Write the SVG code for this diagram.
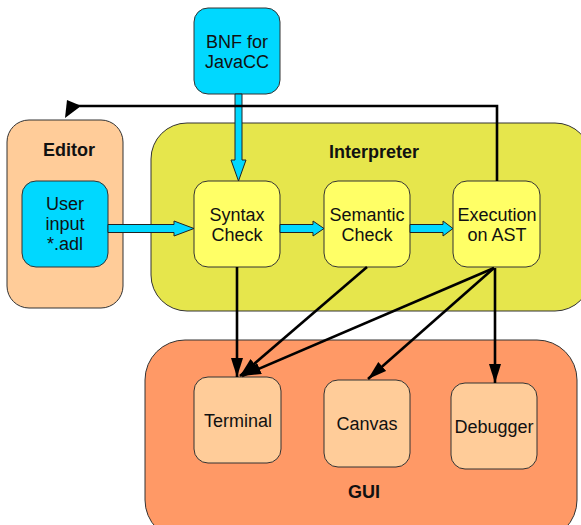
<svg xmlns="http://www.w3.org/2000/svg" width="581" height="525" viewBox="0 0 581 525">
  <style>
    .box { stroke: #333; stroke-width: 1; }
    .editor { fill: #ffcc99; }
    .interp { fill: #e6e64c; }
    .gui { fill: #ff9966; }
    .cyan { fill: #00d8ff; }
    .yellow { fill: #ffff66; }
    .peach { fill: #ffcc99; }
    .lbl { font-family: "Liberation Sans", Arial, sans-serif; font-size: 18px; fill: #111; text-anchor: middle; }
    .title { font-family: "Liberation Sans", Arial, sans-serif; font-size: 18px; font-weight: bold; fill: #111; text-anchor: middle; }
    .wire { fill: none; stroke: #000; stroke-width: 2.6; }
    .flow { fill: #00d8ff; stroke: #222; stroke-width: 1; }
  </style>
  <defs>
    <marker id="head" markerUnits="userSpaceOnUse" markerWidth="20" markerHeight="14" refX="19" refY="6" orient="auto">
      <path d="M0,0 L19,6 L0,12 z" fill="#000"/>
    </marker>
  </defs>

  <!-- containers -->
  <g id="editor">
    <rect class="box editor" x="7" y="120" width="116" height="188" rx="22"/>
    <text class="title" x="69" y="156">Editor</text>
  </g>
  <g id="interpreter">
    <rect class="box interp" x="151" y="123" width="440" height="188" rx="36"/>
    <text class="title" x="374" y="158">Interpreter</text>
  </g>
  <g id="gui">
    <rect class="box gui" x="145" y="340" width="432" height="200" rx="40"/>
    <text class="title" x="364" y="498">GUI</text>
  </g>

  <!-- nodes -->
  <g id="bnf">
    <rect class="box cyan" x="194" y="8" width="86" height="86" rx="14"/>
    <text class="lbl" x="237" y="48">BNF for</text>
    <text class="lbl" x="237" y="68">JavaCC</text>
  </g>
  <g id="user-input">
    <rect class="box cyan" x="22" y="181" width="86" height="86" rx="14"/>
    <text class="lbl" x="65" y="210">User</text>
    <text class="lbl" x="65" y="230">input</text>
    <text class="lbl" x="65" y="250">*.adl</text>
  </g>
  <g id="syntax">
    <rect class="box yellow" x="194" y="181" width="86" height="86" rx="14"/>
    <text class="lbl" x="237" y="221">Syntax</text>
    <text class="lbl" x="237" y="241">Check</text>
  </g>
  <g id="semantic">
    <rect class="box yellow" x="324" y="181" width="86" height="86" rx="14"/>
    <text class="lbl" x="367" y="221">Semantic</text>
    <text class="lbl" x="367" y="241">Check</text>
  </g>
  <g id="execution">
    <rect class="box yellow" x="453" y="181" width="87" height="86" rx="14"/>
    <text class="lbl" x="497" y="221">Execution</text>
    <text class="lbl" x="497" y="241">on AST</text>
  </g>
  <g id="terminal">
    <rect class="box peach" x="194" y="377" width="87" height="86" rx="14"/>
    <text class="lbl" x="238" y="427">Terminal</text>
  </g>
  <g id="canvas">
    <rect class="box peach" x="324" y="380" width="86" height="87" rx="14"/>
    <text class="lbl" x="367" y="430">Canvas</text>
  </g>
  <g id="debugger">
    <rect class="box peach" x="451" y="383" width="86" height="86" rx="14"/>
    <text class="lbl" x="494" y="433">Debugger</text>
  </g>

  <!-- connectors -->
  <g id="connectors">
    <!-- data flow (block arrows) -->
    <polygon class="flow" points="235,94 242,94 242,160 246,160 238.5,181 231,160 235,160"/>
    <polygon class="flow" points="108,224.5 174,224.5 174,221 194,228.5 174,236 174,232.5 108,232.5"/>
    <polygon class="flow" points="280,224.5 313,224.5 313,221 324,228.5 313,236 313,232.5 280,232.5"/>
    <polygon class="flow" points="410,224.5 443,224.5 443,221 453,228.5 443,236 443,232.5 410,232.5"/>

    <!-- feedback to editor -->
    <polyline class="wire" points="497,181 497,106 76,106"/>
    <polygon points="67,100 79,105 79,107.5 65,118" fill="#000"/>

    <!-- output links -->
    <line class="wire" x1="237" y1="267" x2="237" y2="377" marker-end="url(#head)"/>
    <line class="wire" x1="367" y1="267" x2="240" y2="376" marker-end="url(#head)"/>
    <line class="wire" x1="494" y1="268" x2="242" y2="376" marker-end="url(#head)"/>
    <line class="wire" x1="494" y1="268" x2="368" y2="379" marker-end="url(#head)"/>
    <line class="wire" x1="495" y1="268" x2="495" y2="383" marker-end="url(#head)"/>
  </g>
</svg>
